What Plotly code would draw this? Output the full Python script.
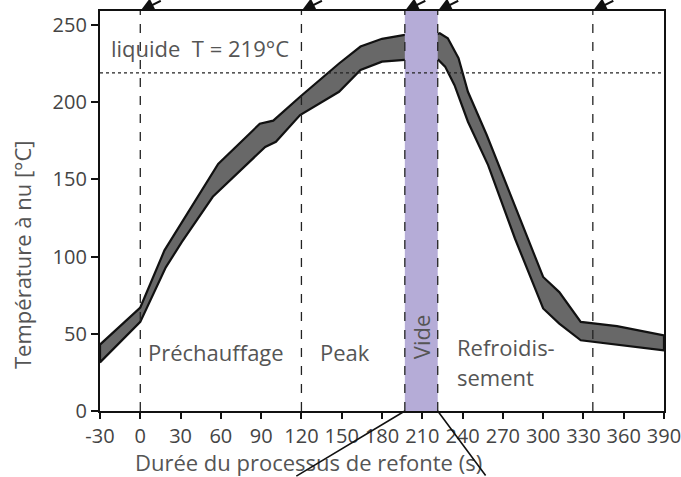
import plotly.graph_objects as go

# ---- data ----
upper_t = [-30, 0, 18, 58, 89, 99, 119, 148, 164, 180, 197, 221, 223, 229, 237, 244, 258, 281, 300, 312, 328, 355, 390]
upper_T = [43, 67, 104, 160, 186, 188, 203.5, 225, 236, 241, 243.5, 244, 244.6, 241.3, 228.4, 206.7, 178.7, 129, 86.8, 77, 57.7, 55, 49]
lower_t = [-30, 0, 19, 31, 54, 93, 101, 119, 148, 156, 164, 180, 197, 222, 227, 234, 244, 259, 279, 300, 312, 328, 390]
lower_T = [31.5, 57.7, 93, 109.5, 138.7, 171, 174.3, 191.6, 206.7, 214, 220.8, 226.2, 227.3, 227.3, 223, 211, 187.3, 159.2, 111.7, 66.4, 56.6, 45.8, 39.3]

phase_bounds = [0, 120, 197, 221.5, 337]
vide_start, vide_end = 197, 221.5
liquidus_T = 219
x_ticks = list(range(-30, 391, 30))
y_ticks = list(range(0, 251, 50))
x_range = [-30, 390]
y_range = [0, 259]

phase_labels = [
    ("Préchauffage", 4, 38),
    ("Peak", 132, 38),
    ("Refroidis-", 234, 41.4),
    ("sement", 234, 22),
]

FONT = "Open Sans"
TXT = "#555555"
LBL = 22

fig = go.Figure()

# band polygon
poly_x = upper_t + lower_t[::-1] + [upper_t[0]]
poly_y = upper_T + lower_T[::-1] + [upper_T[0]]
fig.add_trace(go.Scatter(
    x=poly_x, y=poly_y, mode="lines", fill="toself",
    fillcolor="#686868", line=dict(color="#111111", width=2.2),
    hoverinfo="skip", showlegend=False,
))

shapes = []
# Vide band
shapes.append(dict(type="rect", xref="x", yref="y", x0=vide_start, x1=vide_end,
                   y0=0, y1=y_range[1], fillcolor="#b5acd7", line=dict(width=0),
                   layer="above"))
# liquidus dotted line
shapes.append(dict(type="line", xref="x", yref="y", x0=x_range[0], x1=x_range[1],
                   y0=liquidus_T, y1=liquidus_T,
                   line=dict(color="#222222", width=1.2, dash="dot"), layer="above"))
# phase dashed lines
for b in phase_bounds:
    shapes.append(dict(type="line", xref="x", yref="y", x0=b, x1=b, y0=0, y1=y_range[1],
                       line=dict(color="#222222", width=1.3, dash="dash"), layer="above"))

annotations = []
annotations.append(dict(x=-23, y=235, xref="x", yref="y", text="liquide  T = 219°C",
                        showarrow=False, xanchor="left", yanchor="middle",
                        font=dict(family=FONT, size=LBL, color=TXT)))
for txt, xx, yy in phase_labels:
    annotations.append(dict(x=xx, y=yy, xref="x", yref="y", text=txt, showarrow=False,
                            xanchor="left", yanchor="middle",
                            font=dict(family=FONT, size=LBL, color=TXT)))
annotations.append(dict(x=(vide_start + vide_end) / 2, y=48, xref="x", yref="y", text="Vide",
                        showarrow=False, textangle=-90, xanchor="center", yanchor="middle",
                        font=dict(family=FONT, size=LBL, color=TXT)))
# axis titles (paper coords are relative to the plot area: x 100-664 px, y 11-411 px)
annotations.append(dict(x=(308 - 100) / 564, y=(411 - 462) / 400, xref="paper", yref="paper",
                        text="Durée du processus de refonte (s)", showarrow=False,
                        xanchor="center", yanchor="middle",
                        font=dict(family=FONT, size=LBL, color=TXT)))
annotations.append(dict(x=(22 - 100) / 564, y=(411 - 255) / 400, xref="paper", yref="paper",
                        text="Température à nu [°C]", showarrow=False, textangle=-90,
                        xanchor="center", yanchor="middle",
                        font=dict(family=FONT, size=LBL, color=TXT)))
# top arrows (pointers to other figure parts)
for b in phase_bounds:
    annotations.append(dict(x=b, y=y_range[1], xref="x", yref="y", text="", showarrow=True,
                            ax=22, ay=-18, arrowhead=2, arrowsize=1.4, arrowwidth=2,
                            arrowcolor="#111111", standoff=0))
# bottom diagonal connector lines
annotations.append(dict(x=vide_start, y=0, xref="x", yref="y", text="", showarrow=True,
                        ax=-110, ay=66, arrowhead=0, arrowwidth=1.6, arrowcolor="#111111"))
annotations.append(dict(x=vide_end, y=0, xref="x", yref="y", text="", showarrow=True,
                        ax=49, ay=66, arrowhead=0, arrowwidth=1.6, arrowcolor="#111111"))

fig.update_layout(
    width=681, height=477,
    margin=dict(l=100, r=17, t=11, b=66, autoexpand=False),
    paper_bgcolor="white", plot_bgcolor="white",
    shapes=shapes, annotations=annotations, showlegend=False,
    font=dict(family=FONT, color="#444444"),
)
fig.update_xaxes(range=x_range, tickvals=x_ticks, ticktext=[str(v) for v in x_ticks],
                 automargin=False, ticklabeloverflow="allow",
                 showgrid=False, zeroline=False, showline=True, linecolor="#111111",
                 linewidth=2.2, mirror=True, ticks="outside", ticklen=6, tickwidth=1.5,
                 tickcolor="#111111", tickfont=dict(family=FONT, size=20, color="#444444"))
fig.update_yaxes(range=y_range, tickvals=y_ticks, showgrid=False, zeroline=False,
                 automargin=False,
                 showline=True, linecolor="#111111", linewidth=2.2, mirror=True,
                 ticks="outside", ticklen=7, tickwidth=1.5, tickcolor="#111111",
                 tickfont=dict(family=FONT, size=20, color="#444444"))

fig.write_html("out.html", config={"displayModeBar": False},
               post_script="document.body.style.margin='0';document.body.style.overflow='hidden';")
